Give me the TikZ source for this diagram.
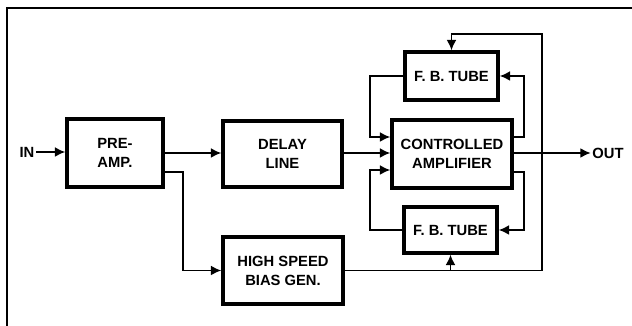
\documentclass[tikz,border=0pt]{standalone}
\usepackage{fontspec}
\setmainfont{Liberation Sans}
\usetikzlibrary{arrows.meta}
\begin{document}
\begin{tikzpicture}[
    x=0.025cm, y=-0.025cm,
    blk/.style={draw, line width=2.4pt, align=center, inner sep=2pt,
        font=\fontsize{10.5}{13.5}\selectfont\bfseries},
    arr/.style={line width=1.3pt, -{Latex[length=2.6mm,width=2.5mm]}},
    lbl/.style={font=\fontsize{10.5}{12}\selectfont\bfseries, inner sep=1pt}
]
\useasboundingbox (0,0) rectangle (632,326);

% --- frame ---
\draw[line width=0.9pt] (7,326) -- (7,8) -- (632,8);

% --- blocks ---
\node[blk, minimum width=2.4cm, minimum height=1.7cm] (pre) at (115,153) {PRE-\\AMP.};
\node[blk, minimum width=2.975cm, minimum height=1.65cm] (delay) at (282.5,154) {DELAY\\LINE};
\node[blk, minimum width=3cm, minimum height=1.675cm] (bias) at (283,270.5) {HIGH SPEED\\BIAS GEN.};
\node[blk, minimum width=3cm, minimum height=1.7cm] (ctrl) at (452,154) {CONTROLLED\\AMPLIFIER};
\node[blk, minimum width=2.325cm, minimum height=1.2cm] (fbt) at (451.5,76) {F. B. TUBE};
\node[blk, minimum width=2.325cm, minimum height=1.15cm] (fbb) at (450.5,230) {F. B. TUBE};

\node[lbl] (in) at (27,152) {IN};
\node[lbl] (out) at (608,153) {OUT};

% --- signal path ---
\draw[arr] (in.east) -- (pre.west |- in.east);
\draw[arr] (pre.east |- 0,153) -- (delay.west |- 0,153);
\draw[arr] (pre.east |- 0,172) -- (183,172) |- (bias.west);
\draw[arr] (delay.east |- 0,153) -- (ctrl.west |- 0,153);
\draw[arr] (ctrl.east |- 0,153) -- (out.west);

% --- feedback loops ---
\draw[arr] (fbt.west) -- ++(-33,0) |- (ctrl.west |- 0,137);
\draw[arr] (ctrl.east |- 0,137) -- ++(10,0) |- (fbt.east);
\draw[arr] (fbb.west) -- ++(-32,0) |- (ctrl.west |- 0,170);
\draw[arr] (ctrl.east |- 0,172) -- ++(10,0) |- (fbb.east);

% --- bias to tubes ---
\draw[arr] (bias.east) -- (542,270.5) |- (fbt.north |- 0,34) -- (fbt.north);
\draw[arr] (fbb.south |- bias.east) -- (fbb.south);

\end{tikzpicture}
\end{document}
